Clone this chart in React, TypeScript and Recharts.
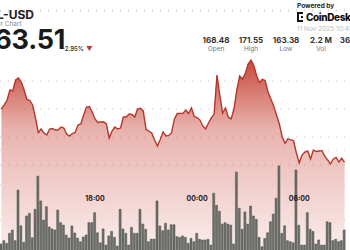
import { AreaChart, Area, BarChart, Bar, XAxis, YAxis, CartesianGrid } from 'recharts';

// 10-minute samples (first visible sample ~12:30)
const priceValues = [
  168.0, 168.29, 168.64, 169.36, 169.29, 170.07, 170.21, 169.93, 169.36, 168.68,
  168.61, 168.29, 167.36, 166.31, 166.57, 166.29, 166.14, 166.57, 166.61, 166.5,
  166.5, 166.71, 166.64, 166.21, 166.07, 166.25, 166.32, 166.86, 166.93, 167.57,
  168.14, 168.18, 167.79, 167.29, 167.04, 167.07, 167.09, 166.93, 165.93, 166.43,
  166.71, 166.57, 166.64, 167.43, 167.43, 167.64, 167.61, 167.43, 168.0, 168.05,
  167.86, 166.54, 166.43, 166.29, 165.79, 165.36, 165.82, 166.36, 166.07, 166.11,
  166.31, 167.29, 167.68, 167.69, 167.69, 167.93, 167.68, 168.07, 167.46, 167.39,
  167.21, 166.79, 166.57, 167.0, 167.36, 167.64, 170.43, 169.0, 167.71, 168.07,
  167.43, 167.29, 168.0, 169.36, 170.36, 170.14, 170.54, 171.21, 171.5, 171.11,
  170.36, 169.89, 170.12, 170.04, 169.21, 168.71, 168.21, 167.57, 166.93, 166.0,
  165.55, 165.86, 165.79, 165.75, 164.86, 164.14, 164.71, 164.93, 165.0, 164.43,
  165.07, 164.96, 165.0, 165.04, 164.64, 164.36, 164.07, 164.43, 164.54, 164.21,
  164.48, 164.18,
];

// volume per sample, millions
const volumeValues = [
  0.63, 0.82, 0.67, 1.24, 1.43, 0.82, 3.71, 1.67, 0.73, 2.23,
  2.38, 0.99, 2.61, 4.51, 3.09, 2.0, 2.76, 1.6, 1.49, 1.43,
  2.57, 1.85, 1.71, 1.14, 0.97, 1.66, 1.26, 0.97, 0.76, 1.03,
  1.14, 1.85, 1.85, 2.42, 1.27, 0.7, 1.49, 0.57, 1.09, 1.35,
  1.01, 0.51, 2.61, 1.49, 1.24, 0.57, 1.58, 1.24, 1.24, 2.61,
  1.77, 1.47, 0.76, 0.91, 0.91, 3.09, 1.66, 1.39, 1.81, 1.43,
  1.73, 1.73, 1.05, 1.01, 1.09, 1.01, 0.67, 0.95, 0.76, 1.24,
  0.9, 0.86, 0.86, 0.9, 0.57, 3.53, 2.84, 2.5, 1.77, 1.85,
  1.77, 1.71, 0.63, 4.74, 2.67, 1.47, 2.46, 1.77, 2.8, 2.23,
  2.04, 1.01, 0.47, 0.95, 1.27, 1.9, 2.34, 3.24, 5.09, 1.24,
  1.67, 0.82, 0.76, 0.7, 4.86, 1.7, 0.57, 0.57, 2.42, 1.47,
  1.35, 0.63, 0.86, 0.57, 0.57, 1.9, 1.85, 0.82, 0.9, 0.76,
  0.82, 1.43,
];

const xTickIndex = [33, 69, 105];
const xTickLabels = ['18:00', '00:00', '06:00'];
const priceTicks = [164, 166, 168, 170];
const volumeTicks = [2, 4, 6];

const stats = [
  { value: '168.48', label: 'Open' },
  { value: '171.55', label: 'High' },
  { value: '163.38', label: 'Low' },
  { value: '2.2 M', label: 'Vol' },
  { value: '364.8 M', label: 'Val' },
];

const data = priceValues.map((p, i) => ({ i, price: p, volume: volumeValues[i] }));

const FONT = 'Inter, "Open Sans", sans-serif';
const W = 386;
const H = 260;
const xDomain: [number, number] = [-0.5, priceValues.length - 0.5];

const abs = (left: number, top: number): React.CSSProperties => ({
  position: 'absolute',
  left,
  top,
  whiteSpace: 'nowrap',
  lineHeight: 1,
});

export default function App() {
  return (
    <div
      style={{
        position: 'fixed',
        left: 0,
        top: 0,
        width: 350,
        height: 250,
        overflow: 'hidden',
        background: '#fff',
        fontFamily: FONT,
      }}
    >
      {/* price layer */}
      <div style={{ position: 'absolute', left: 0, top: 0 }}>
        <AreaChart width={W} height={H} data={data} margin={{ top: 11, right: 0, bottom: 4, left: 0 }}>
          <defs>
            <linearGradient id="priceFill" x1="0" y1="0" x2="0" y2="1">
              <stop offset="0%" stopColor="#c0392b" stopOpacity={0.92} />
              <stop offset="35%" stopColor="#c9473b" stopOpacity={0.42} />
              <stop offset="100%" stopColor="#d05a50" stopOpacity={0.1} />
            </linearGradient>
          </defs>
          <XAxis dataKey="i" type="number" domain={xDomain} hide />
          <YAxis
            orientation="right"
            domain={[157.5, 175]}
            ticks={priceTicks}
            width={40}
            axisLine={false}
            tickLine={false}
            tickMargin={1}
            tick={{ fontSize: 8, fill: '#333', textAnchor: 'start' }}
            tickFormatter={(v: number) => v.toFixed(2)}
          />
          <Area
            type="linear"
            dataKey="price"
            stroke="#b8352b"
            strokeWidth={1.4}
            fill="url(#priceFill)"
            fillOpacity={1}
            isAnimationActive={false}
          />
          <CartesianGrid vertical={false} stroke="#c8c8c8" strokeDasharray="1 7" />
        </AreaChart>
      </div>

      {/* volume layer */}
      <div style={{ position: 'absolute', left: 0, top: 0 }}>
        <BarChart width={W} height={H} data={data} margin={{ top: 10, right: 0, bottom: 0, left: 0 }}>
          <CartesianGrid vertical={false} horizontal stroke="#d8c8c8" strokeDasharray="1 7" />
          <YAxis
            orientation="right"
            domain={[0, 14]}
            ticks={volumeTicks}
            width={40}
            axisLine={false}
            tickLine={false}
            tickMargin={1}
            tick={{ fontSize: 8, fill: '#333', textAnchor: 'start' }}
            tickFormatter={(v: number) => `${v}M`}
          />
          <Bar
            dataKey="volume"
            fill="#6c706b"
            stroke="#4b4f4b"
            strokeWidth={0.5}
            barSize={2}
            isAnimationActive={false}
          />
          <XAxis
            dataKey="i"
            type="number"
            domain={xDomain}
            ticks={xTickIndex}
            height={5}
            axisLine={false}
            tickLine={false}
            tick={{ fontSize: 7, fill: '#222', fontWeight: 700, dy: -67 }}
            tickFormatter={(v: number) => xTickLabels[xTickIndex.indexOf(v)]}
          />
        </BarChart>
      </div>

      {/* header left */}
      <div style={{ ...abs(-20, 9), fontSize: 12, fontWeight: 700, color: '#222' }}>SOL-USD</div>
      <div style={{ ...abs(-22, 21), fontSize: 6.5, color: '#888' }}>24 Hour Chart</div>
      <div
        style={{
          ...abs(-17, 30),
          fontSize: 27,
          fontWeight: 700,
          color: '#1a1a1a',
          letterSpacing: -0.3,
          lineHeight: '20px',
        }}
      >
        163.51
      </div>
      <div style={{ ...abs(62, 46), fontSize: 6, fontWeight: 600, color: '#333' }}>
        -2.95%
        <span style={{ color: '#c0392b', marginLeft: 2, fontSize: 6.5 }}>▼</span>
      </div>

      {/* header right */}
      <div style={{ ...abs(297, 3), fontSize: 6.5, fontWeight: 700, color: '#222' }}>Powered by</div>
      <div style={{ ...abs(297, 12), display: 'flex', alignItems: 'center' }}>
        <svg width={8} height={10} style={{ flexShrink: 0 }}>
          <rect x={0} y={0} width={2} height={10} fill="#111" />
          <rect x={0} y={0} width={6} height={2} fill="#111" />
          <rect x={0} y={8} width={6} height={2} fill="#111" />
          <rect x={4} y={4} width={2} height={2} fill="#111" />
        </svg>
        <span style={{ fontSize: 10, fontWeight: 800, color: '#111', marginLeft: 1, letterSpacing: -0.4 }}>
          CoinDesk I
        </span>
      </div>
      <div style={{ ...abs(297, 26), fontSize: 6.5, color: '#bbb' }}>11 Nov 2025 10:49</div>

      {stats.map((s, k) => (
        <div key={s.label} style={{ ...abs(196 + k * 35, 36), width: 40, textAlign: 'center' }}>
          <div style={{ fontSize: 8, fontWeight: 700, color: '#333', lineHeight: '9px' }}>{s.value}</div>
          <div style={{ fontSize: 6.5, color: '#777', lineHeight: '9px' }}>{s.label}</div>
        </div>
      ))}
    </div>
  );
}
